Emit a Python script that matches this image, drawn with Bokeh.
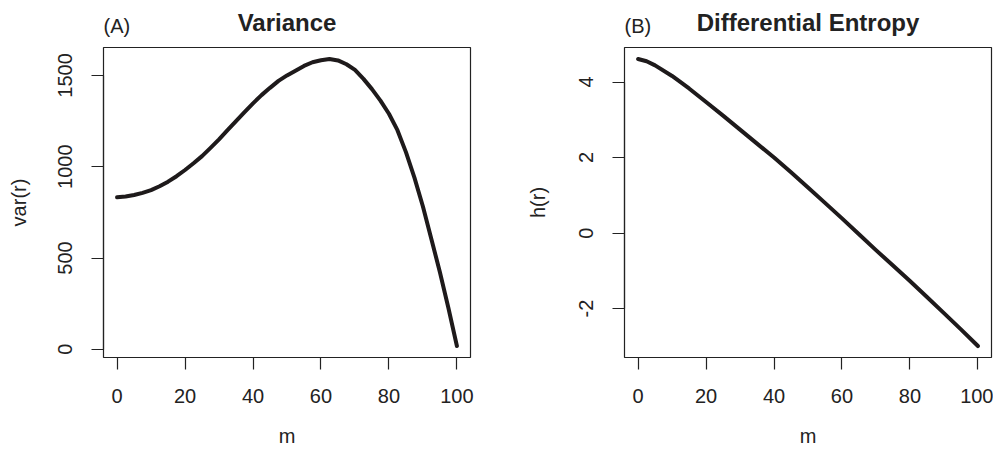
from bokeh.plotting import figure
from bokeh.models import Range1d, FixedTicker, Title
from bokeh.layouts import row
from bokeh.embed import file_html
from bokeh.resources import INLINE

# ---- data ----
m_var = [0, 2.5, 5, 7.5, 10, 12.5, 15, 17.5, 20, 22.5, 25, 27.5, 30, 32.5, 35, 37.5, 40, 42.5,
         45, 47.5, 50, 52.5, 55, 57.5, 60, 62.5, 65, 67.5, 70, 72.5, 75, 77.5, 80, 82.5,
         85, 87.5, 90, 92.5, 95, 97.5, 100]
var_r = [833, 837, 845, 857, 872, 893, 918, 948, 982, 1019, 1058, 1103, 1150, 1200, 1250, 1299, 1347, 1392,
         1432, 1470, 1500, 1526, 1552, 1572, 1583, 1590, 1582, 1561, 1530, 1481, 1425, 1362, 1290, 1200,
         1080, 940, 782, 603, 422, 226, 18]

m_h = [0, 2.5, 5, 10, 15, 20, 25, 30, 35, 40, 45, 50, 55, 60, 65, 70, 75, 80, 85, 90, 95, 100]
h_r = [4.61, 4.55, 4.44, 4.16, 3.83, 3.47, 3.11, 2.74, 2.37, 2.00, 1.61, 1.21, 0.80, 0.39,
       -0.03, -0.45, -0.86, -1.27, -1.69, -2.12, -2.55, -2.99]

x_ticks = [0, 20, 40, 60, 80, 100]
var_ticks = [0, 500, 1000, 1500]
h_ticks = [-2, 0, 2, 4]

titles = ["Variance", "Differential Entropy"]
tags = ["(A)", "(B)"]
ylabels = ["var(r)", "h(r)"]
xlabel = "m"

FONT = "Liberation Sans"
INK = "#222222"
H = 453


def r_range(vals):
    lo, hi = min(vals), max(vals)
    pad = (hi - lo) * 0.04
    return Range1d(lo - pad, hi + pad)


def panel(x, y, yticks, ylabel, title, tag, width, left, right, ylab_standoff):
    xr = r_range(x)
    yr = r_range(y)
    p = figure(width=width, height=H, x_range=xr, y_range=yr,
               output_backend="svg", toolbar_location=None,
               min_border_left=left, min_border_right=right,
               min_border_top=47, min_border_bottom=H - 357,
               background_fill_color="white", border_fill_color="white")
    p.xgrid.visible = False
    p.ygrid.visible = False
    p.outline_line_color = INK
    p.outline_line_width = 1.2
    p.line(x, y, line_width=4, line_color="#1e1a1b", line_cap="round", line_join="round")

    for ax in (p.xaxis[0], p.yaxis[0]):
        ax.major_tick_out = 12
        ax.major_tick_in = 0
        ax.minor_tick_line_color = None
        ax.axis_line_color = INK
        ax.axis_line_width = 1.2
        ax.major_tick_line_color = INK
        ax.major_tick_line_width = 1.2
        ax.major_label_text_font = FONT
        ax.major_label_text_font_size = "20px"
        ax.major_label_text_color = INK
        ax.axis_label_text_font = FONT
        ax.axis_label_text_font_size = "20px"
        ax.axis_label_text_font_style = "normal"
        ax.axis_label_text_color = INK

    xa = p.xaxis[0]
    xa.ticker = FixedTicker(ticks=x_ticks)
    xa.bounds = (min(x_ticks), max(x_ticks))
    xa.major_label_overrides = {t: str(t) for t in x_ticks}
    xa.major_label_standoff = 19
    xa.axis_label = xlabel
    xa.axis_label_standoff = 19

    ya = p.yaxis[0]
    ya.ticker = FixedTicker(ticks=yticks)
    ya.bounds = (min(yticks), max(yticks))
    ya.major_label_overrides = {t: str(t) for t in yticks}
    ya.major_label_orientation = "vertical"
    ya.major_label_standoff = 19
    ya.axis_label = ylabel
    ya.axis_label_standoff = ylab_standoff

    # panel tag (inner title row) and main title (pulled down onto the same row)
    p.add_layout(Title(text=tag, align="left", vertical_align="bottom", standoff=22,
                       text_font=FONT, text_font_size="20px", text_font_style="normal",
                       text_color=INK), "above")
    p.add_layout(Title(text=title, align="center", vertical_align="bottom", standoff=-69,
                       text_font=FONT, text_font_size="24px", text_font_style="bold",
                       text_color=INK), "above")
    return p


p1 = panel(m_var, var_r, var_ticks, ylabels[0], titles[0], tags[0], 497, 103, 27, 26)
p2 = panel(m_h, h_r, h_ticks, ylabels[1], titles[1], tags[1], 496, 127, 2, 28)

layout = row(p1, p2)
open("out.html", "w").write(file_html(layout, INLINE))
